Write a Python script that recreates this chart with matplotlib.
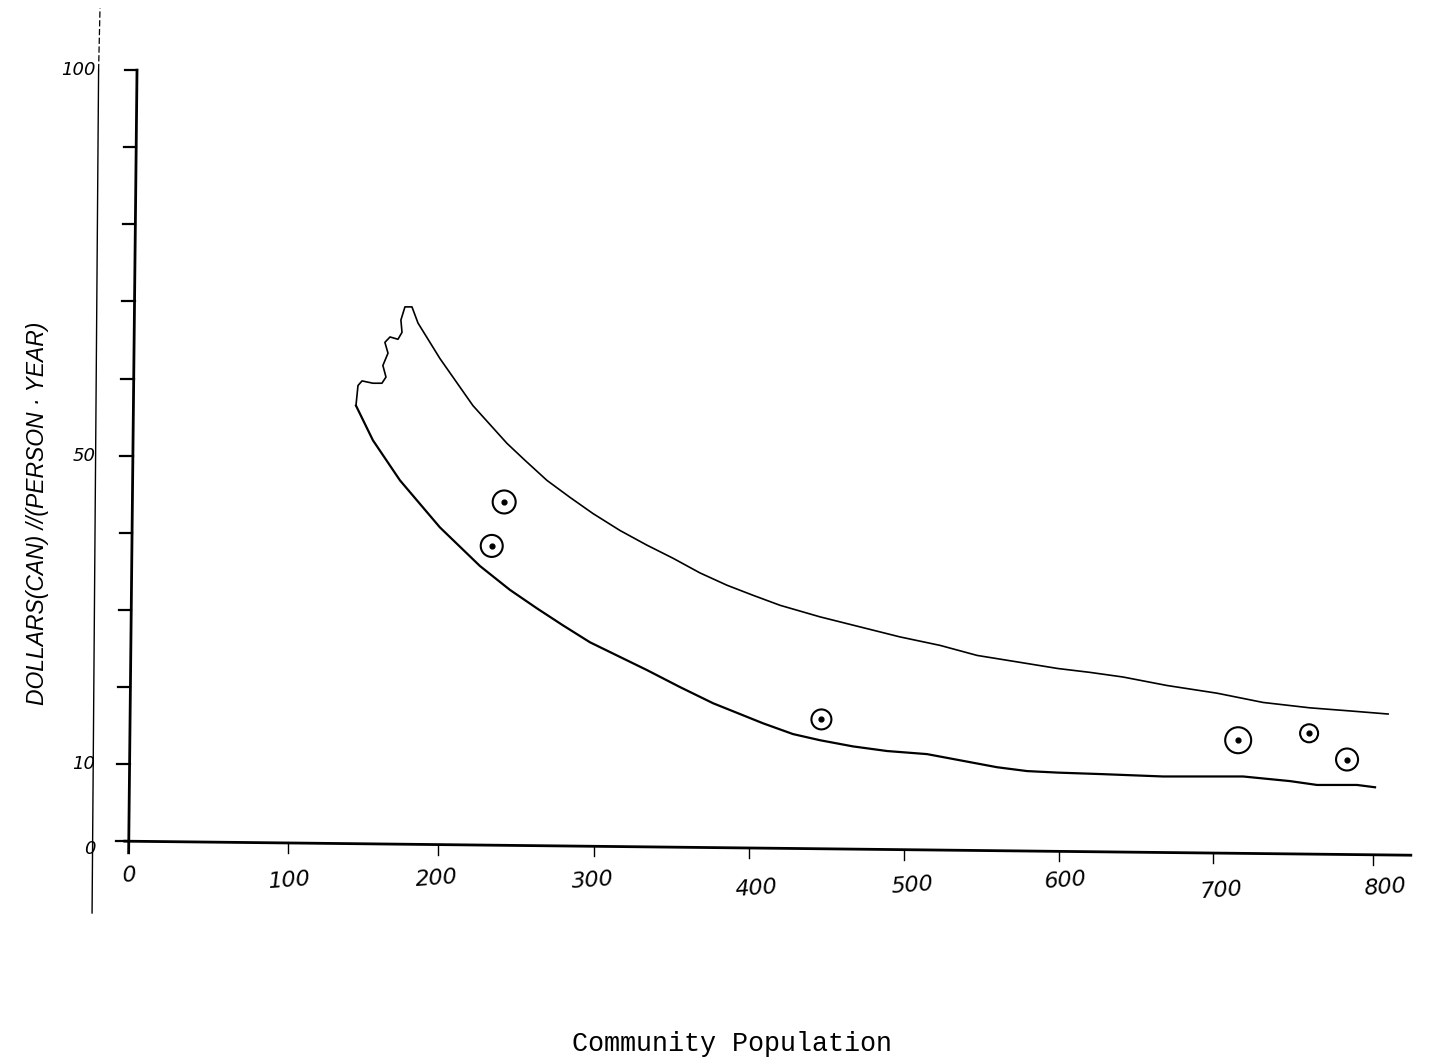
import matplotlib
matplotlib.use("Agg")
import matplotlib.pyplot as plt

# envelope, upper edge (starts at the cusp on the left)
upper_pop = [144.7, 146, 148.6, 155.6, 161.4, 164, 162, 165.3, 163.3, 166.6, 171.7, 174.3, 173.6,
             176.2, 180.7, 184.6, 198.7, 219.9, 241.8, 253.4, 267.5, 282.3, 297.1, 314.5, 331.8,
             348.6, 365.9, 383.3, 400, 417.4, 443.1, 468.8, 494.5, 520.3, 544.1, 571.7, 596.1,
             616.7, 637.9, 666.2, 698.4, 728, 758.2, 783.9, 808.4]
upper_cost = [56.5, 59.1, 59.7, 59.4, 59.4, 60.2, 61.7, 63.3, 64.7, 65.4, 65.1, 66, 67.6,
              69.3, 69.3, 67.2, 62.6, 56.5, 51.6, 49.4, 46.8, 44.6, 42.5, 40.3, 38.4,
              36.7, 34.8, 33.2, 31.9, 30.6, 29.1, 27.8, 26.5, 25.4, 24.1, 23.2, 22.4,
              21.9, 21.3, 20.2, 19.2, 18, 17.3, 16.9, 16.5]

# envelope, lower edge
lower_pop = [144.7, 155.6, 173, 198.7, 224.4, 243.7, 261.1, 277.8, 295.2, 314.5, 331.8, 353,
             374.3, 391.6, 406.4, 425.7, 443.1, 464.3, 486.2, 511.9, 533.1, 556.9, 576.2,
             596.1, 625.1, 663.7, 715.1, 745.3, 762.7, 788.4, 800]
lower_cost = [56.5, 52, 46.8, 40.7, 35.7, 32.6, 30.2, 28, 25.8, 23.9, 22.2, 20,
              17.9, 16.5, 15.3, 13.9, 13.1, 12.3, 11.7, 11.3, 10.5, 9.6, 9.1,
              8.9, 8.7, 8.4, 8.4, 7.8, 7.3, 7.3, 7]

# circled points
point_pop = [240, 232, 444, 712, 757.6, 782]
point_cost = [44, 38.3, 15.8, 13.1, 14, 10.6]
ring_size = [274, 251, 207, 350, 168, 251]

x_ticks = [101, 197.5, 297.9, 397.4, 497, 597, 696, 799]
x_labels = ['0', '100', '200', '300', '400', '500', '600', '700', '800']
x_label_pos = [-0.6, 102.3, 196.8, 297.1, 401.9, 502.3, 600.6, 701.6, 806.4]
x_label_y = [-4.5, -5.1, -4.9, -5.1, -6.1, -5.8, -5.1, -6.4, -6]
y_ticks = [0, 10, 20, 30, 40, 50, 60, 70, 80, 90, 100]
y_labels = ['0', '10', '50', '100']
y_label_pos = [-1, 10, 50, 100]

XMIN, XMAX = -84.2, 839.2
YMIN, YMAX = -28.5, 109.1

def base_y(x):
    # the scanned x axis runs downhill
    return -0.0022 * x

def axis_x(y):
    # the scanned y axis leans too
    return -1.4 + 0.053 * y

fig = plt.figure(figsize=(14.36, 10.61), dpi=100)
ax = fig.add_axes([0, 0, 1, 1])
ax.set_xlim(XMIN, XMAX)
ax.set_ylim(YMIN, YMAX)
ax.axis('off')

# axes
ax.plot([-4, 823], [base_y(-4), base_y(823)], color='k', lw=2)
ax.plot([axis_x(-1.5), axis_x(100)], [-1.5, 100], color='k', lw=2)
for v in y_ticks:
    ax.plot([axis_x(v) - 8, axis_x(v)], [v, v], color='k', lw=1.6)
for v in x_ticks:
    ax.plot([v, v], [base_y(v), base_y(v) - 1.3], color='k', lw=1)

# long thin line left of the tick labels
ax.plot([-25, -20.8], [-9.3, 100], color='k', lw=1)
ax.plot([-20.8, -19.9], [100, 108], color='k', lw=0.9, ls=(0, (5, 2)))

ax.plot(upper_pop, upper_cost, color='k', lw=1.2, solid_joinstyle='round')
ax.plot(lower_pop, lower_cost, color='k', lw=1.6, solid_joinstyle='round')

ax.scatter(point_pop, point_cost, s=ring_size, facecolors='none', edgecolors='k', linewidths=1.5, zorder=3)
ax.scatter(point_pop, point_cost, s=12, color='k', zorder=3)

# handwritten labels
for x, y, lab in zip(x_label_pos, x_label_y, x_labels):
    ax.text(x, y, lab, ha='center', va='center', rotation=4,
            fontsize=16, style='italic', family='DejaVu Sans')
for y, lab in zip(y_label_pos, y_labels):
    ax.annotate(lab, (-21, y), xytext=(-2, 0), textcoords='offset points', ha='right', va='center',
                fontsize=13, style='italic', family='DejaVu Sans')

ax.text(-60, 42.5, 'DOLLARS(CAN) //(PERSON · YEAR)', rotation=90, ha='center', va='center',
        fontsize=16.5, style='italic', family='Liberation Sans')
ax.text(386.5, -26.3, 'Community Population', ha='center', va='center', fontsize=19.3, family='Liberation Mono')

plt.savefig('out.png', dpi=100)
